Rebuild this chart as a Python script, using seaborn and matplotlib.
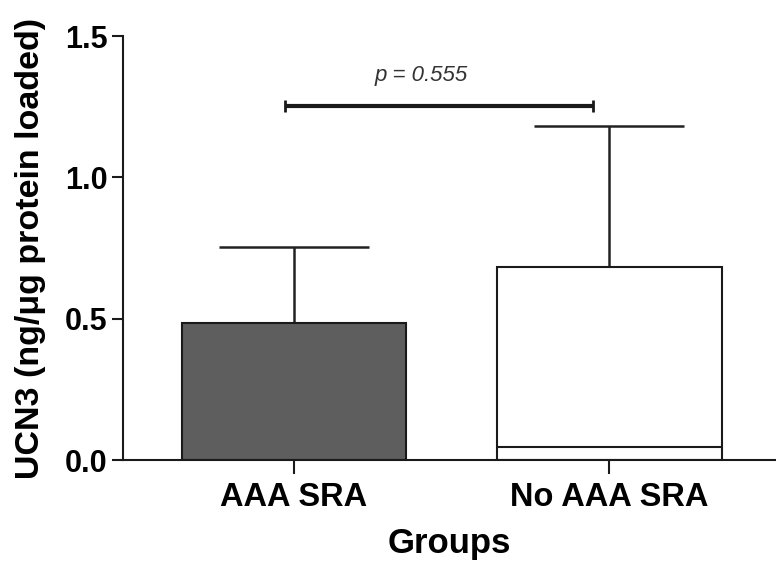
import matplotlib
matplotlib.use("Agg")
import matplotlib.pyplot as plt
import seaborn as sns
import pandas as pd

groups = ["AAA SRA", "No AAA SRA"]
means = [0.486, 0.683]
upper_err = [0.266, 0.498]
inner_line = 0.047
bar_colors = ["#5e5e5e", "#ffffff"]
p_label = "p = 0.555"
sig_y = 1.252
yticks = [0.0, 0.5, 1.0, 1.5]

sns.set_style("ticks")
plt.rcParams['font.family'] = ['Liberation Sans', 'DejaVu Sans']

fig = plt.figure(figsize=(7.76, 5.67), dpi=100)
ax = fig.add_axes([0.1585, 0.1887, 0.8415, 0.7478])

df = pd.DataFrame({"group": groups, "value": means})
sns.barplot(data=df, x="group", y="value", hue="group", palette=bar_colors,
            width=0.714, edgecolor="#1a1a1a", linewidth=1.5, errorbar=None,
            legend=False, ax=ax, zorder=2)

ax.errorbar(range(len(groups)), means, yerr=[[0, 0], upper_err], fmt="none",
            ecolor="#222222", elinewidth=1.8, capsize=54, capthick=1.8, zorder=1)

# inner line in white bar
ax.hlines(inner_line, 1 - 0.357, 1 + 0.357, color="#1a1a1a", linewidth=1.5, zorder=3)

# significance bar
ax.plot([-0.03, 0.95], [sig_y, sig_y], color="#1a1a1a", linewidth=3, solid_capstyle="butt")
ax.vlines([-0.03, 0.95], sig_y - 0.02, sig_y + 0.02, color="#1a1a1a", linewidth=2)
ax.text(0.403, 1.36, p_label, ha="center", va="center", fontsize=16,
        style="italic", color="#333333")

ax.set_xlim(-0.543, 1.53)
ax.set_ylim(0, 1.5)
ax.set_yticks(yticks)
ax.set_yticklabels([f"{v:.1f}" for v in yticks])
sns.despine(ax=ax, top=True, right=True)
ax.spines['left'].set_linewidth(1.5)
ax.spines['bottom'].set_linewidth(1.5)
ax.spines['left'].set_color("#1a1a1a")
ax.spines['bottom'].set_color("#1a1a1a")
ax.tick_params(axis='y', length=8, width=1.5, labelsize=22, pad=3, colors="#1a1a1a")
ax.tick_params(axis='x', length=10, width=1.5, labelsize=23.5, pad=6, colors="#1a1a1a")
for lab in ax.get_xticklabels() + ax.get_yticklabels():
    lab.set_fontweight("bold")
    lab.set_color("black")

ax.set_xlabel("Groups", fontsize=25, fontweight="bold", labelpad=10, color="black")
ax.set_ylabel("UCN3 (ng/\u03bcg protein loaded)", fontsize=24.5, fontweight="bold",
              labelpad=14, color="black")

fig.savefig("out.png", dpi=100)
